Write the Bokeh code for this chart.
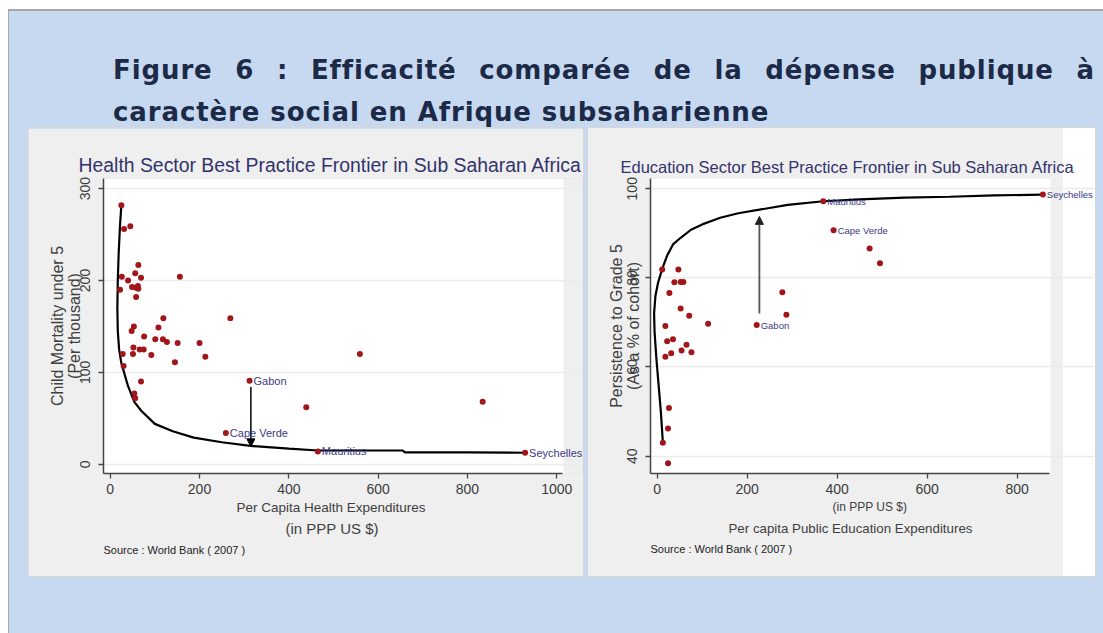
from bokeh.plotting import figure
from bokeh.models import (FixedTicker, Title, Div, Arrow, NormalHead, Range1d,
                          Label, BoxAnnotation)
from bokeh.layouts import column, row
from bokeh.embed import file_html
from bokeh.resources import INLINE

# ---------------- texts ----------------
title_line1 = "Figure 6 : Efficacité comparée de la dépense publique à"
title_line2 = "caractère social en Afrique subsaharienne"
source_text = "Source : World Bank ( 2007 )"

# ---------------- health panel data ----------------
health_title = "Health Sector Best Practice Frontier in Sub Saharan Africa"
health_xlabel = "Per Capita Health Expenditures"
health_xlabel2 = "(in PPP US $)"
health_ylabel = "Child Mortality under 5\n(Per thousand)"
health_xticks = [0, 200, 400, 600, 800, 1000]
health_yticks = [0, 100, 200, 300]
health_xlim = (-15, 1015)      # plot region (white)
health_ylim = (-10, 311)
health_x = [25, 31, 45, 63, 56, 26, 69, 40, 156, 22, 49, 58, 63, 62, 58,
            119, 269, 53, 108, 48, 76, 101, 118, 127, 151, 200, 52, 66, 75,
            92, 213, 145, 28, 51, 30, 69, 54, 56, 312, 439, 259, 465, 559,
            834, 929]
health_y = [282, 256, 259, 217, 208, 204, 203, 200, 204, 190, 193, 192, 191,
            194, 182, 159, 159, 150, 149, 145, 139, 136, 136, 133, 132, 132,
            127, 125, 125, 119, 117, 111, 120, 120, 107, 90, 77, 72, 91, 62,
            34, 14, 120, 68, 12.6]
health_frontier_x = [25, 22, 19, 17, 16, 17, 20, 25, 31, 40, 54, 70, 100, 140,
                     187, 250, 314, 400, 465, 550, 655, 660, 800, 929]
health_frontier_y = [282, 260, 230, 200, 170, 145, 125, 110, 100, 85, 68, 58,
                     44, 36, 29, 24, 20, 17, 15, 15, 15, 13, 13, 12.6]
health_names = ["Gabon", "Cape Verde", "Mauritius", "Seychelles"]
health_names_x = [312, 259, 465, 929]
health_names_y = [91, 34, 14, 12.6]
health_arrow_x = 315
health_arrow_y = [84, 19]

# ---------------- education panel data ----------------
edu_title = "Education Sector Best Practice Frontier in Sub Saharan Africa"
edu_xlabel = "(in PPP US $)"
edu_xlabel2 = "Per capita Public Education Expenditures"
edu_ylabel = "Persistence to Grade 5\n(As a % of cohort)"
edu_xticks = [0, 200, 400, 600, 800]
edu_yticks = [40, 60, 80, 100]
edu_xlim = (-15, 874)
edu_ylim = (36.1, 102.3)
edu_x = [12.5, 24, 24, 26, 18, 31, 22, 35, 18, 54, 76, 65, 52, 71, 113, 27,
         38, 52, 58, 11, 47, 221, 278, 287, 392, 472, 495, 369, 857]
edu_y = [43, 38.4, 46.2, 50.8, 62.3, 63.1, 65.8, 66.2, 69.2, 63.7, 63.3, 65,
         73.1, 71.5, 69.7, 76.6, 79, 79.1, 79.1, 81.9, 81.9, 69.4, 76.8, 71.7,
         90.7, 86.6, 83.3, 97.2, 98.7]
edu_frontier_x = [12.5, 8, 3, -2, -6, -7, -4, 2, 11, 22, 35, 52, 75, 100, 140,
                  180, 227, 290, 369, 450, 550, 650, 750, 857]
edu_frontier_y = [43, 50, 56, 62, 68, 72, 76, 79, 82, 85, 87.5, 89, 90.8, 92,
                  93.5, 94.5, 95.3, 96.4, 97.2, 97.6, 98, 98.2, 98.5, 98.7]
edu_names = ["Gabon", "Cape Verde", "Mauritius", "Seychelles"]
edu_names_x = [221, 392, 369, 857]
edu_names_y = [69.4, 90.7, 97.2, 98.7]
edu_arrow_x = 227
edu_arrow_y = [72, 93.8]

# ---------------- styles ----------------
SANS = "Liberation Sans"
TITLE_COLOR = "#33336b"
LABEL_COLOR = "#3a3a85"
AXIS_TEXT = "#3c3c3c"
DOT = "#a0161a"
PANEL = "#efefef"


def style_axes(p, xticks, yticks, xlim, yl_size, yl_standoff):
    p.xgrid.visible = False
    p.ygrid.grid_line_color = "#ebebeb"
    p.ygrid.grid_line_width = 1.5
    p.xaxis.ticker = FixedTicker(ticks=xticks)
    p.yaxis.ticker = FixedTicker(ticks=yticks)
    p.xaxis.bounds = (xlim[0], xlim[1] - 3)
    for ax in (p.xaxis[0], p.yaxis[0]):
        ax.axis_line_color = "#444444"
        ax.axis_line_width = 1.5
        ax.major_tick_line_color = "#444444"
        ax.major_tick_line_width = 1.3
        ax.major_tick_in = 0
        ax.major_tick_out = 5
        ax.minor_tick_line_color = None
        ax.major_label_text_font = SANS
        ax.major_label_text_font_size = "14px"
        ax.major_label_text_color = AXIS_TEXT
        ax.axis_label_text_font = SANS
        ax.axis_label_text_font_style = "normal"
        ax.axis_label_text_color = "#404040"
    p.xaxis.major_label_standoff = 5
    p.yaxis.major_label_standoff = 8
    p.yaxis.major_label_orientation = "vertical"
    p.yaxis.axis_label_text_font_size = yl_size
    p.yaxis.axis_label_text_line_height = 1.0
    p.yaxis.axis_label_standoff = yl_standoff
    # white plot region
    p.add_layout(BoxAnnotation(left=xlim[0], right=xlim[1], fill_color="white",
                               fill_alpha=1, line_color=None, level="image"))


def add_names(p, names, xs, ys, size):
    for n, x, y in zip(names, xs, ys):
        p.add_layout(Label(x=x, y=y, text=n, x_offset=4,
                           text_baseline="middle", text_font=SANS,
                           text_font_size=size, text_color=LABEL_COLOR))


def below_title(p, text, size, color, standoff, offset):
    p.add_layout(Title(text=text, align="left", offset=offset, text_font=SANS,
                       text_font_size=size, text_font_style="normal",
                       text_color=color, standoff=standoff), "below")


# ---------------- health figure ----------------
# frame spans 479 px; the white plot region keeps 460 px of it
p1 = figure(width=555, height=448, output_backend="svg", toolbar_location=None,
            x_range=Range1d(health_xlim[0],
                            health_xlim[0] + (health_xlim[1] - health_xlim[0]) * 479 / 460),
            y_range=Range1d(*health_ylim),
            min_border_left=75, min_border_right=1, min_border_top=50,
            min_border_bottom=103, background_fill_color=PANEL,
            border_fill_color=PANEL, outline_line_color=None,
            title=health_title, y_axis_label=health_ylabel,
            margin=(0, 5, 0, 20),
            styles={"box-shadow": "0 0 0 1px #d6d6d6"})
p1.title.text_font = SANS
p1.title.text_font_size = "19.4px"
p1.title.text_font_style = "normal"
p1.title.text_color = TITLE_COLOR
p1.title.align = "left"
p1.title.offset = -25
p1.title.standoff = 6
style_axes(p1, health_xticks, health_yticks, health_xlim, "16px", -5)

p1.line(health_frontier_x, health_frontier_y, line_color="black",
        line_width=2.2)
p1.scatter(health_x, health_y, size=6, fill_color=DOT, line_color=None)
p1.add_layout(Arrow(end=NormalHead(size=8, fill_color="black",
                                   line_color="black"),
                    x_start=health_arrow_x, y_start=health_arrow_y[0],
                    x_end=health_arrow_x, y_end=health_arrow_y[1],
                    line_color="black", line_width=1.5))
add_names(p1, health_names, health_names_x, health_names_y, "11px")
below_title(p1, health_xlabel, "13.5px", "#404040", 2, 133)
below_title(p1, health_xlabel2, "15px", "#404040", 5, 182)
below_title(p1, source_text, "11px", "#222222", 4, 0)

# ---------------- education figure ----------------
p2 = figure(width=507, height=448, output_backend="svg", toolbar_location=None,
            x_range=Range1d(edu_xlim[0],
                            edu_xlim[0] + (edu_xlim[1] - edu_xlim[0]) * 444 / 400),
            y_range=Range1d(*edu_ylim),
            min_border_left=62, min_border_right=1, min_border_top=50,
            min_border_bottom=103, background_fill_color=None,
            border_fill_color=None, outline_line_color=None,
            title=edu_title, y_axis_label=edu_ylabel, margin=(0, 0, 0, 0),
            styles={"background": "linear-gradient(to right, %s 475px, #ffffff 475px)" % PANEL,
                    "box-shadow": "0 0 0 1px #d6d6d6"})
p2.title.text_font = SANS
p2.title.text_font_size = "16.5px"
p2.title.text_font_style = "normal"
p2.title.text_color = TITLE_COLOR
p2.title.align = "left"
p2.title.offset = -30
p2.title.standoff = 6
style_axes(p2, edu_xticks, edu_yticks, edu_xlim, "16px", -17)

p2.line(edu_frontier_x, edu_frontier_y, line_color="black", line_width=2.2)
p2.scatter(edu_x, edu_y, size=6, fill_color=DOT, line_color=None)
p2.add_layout(Arrow(end=NormalHead(size=8, fill_color="#222222",
                                   line_color="#222222"),
                    x_start=edu_arrow_x, y_start=edu_arrow_y[0],
                    x_end=edu_arrow_x, y_end=edu_arrow_y[1],
                    line_color="#555555", line_width=1.8))
add_names(p2, edu_names, edu_names_x, edu_names_y, "9.5px")
below_title(p2, edu_xlabel, "12px", "#404040", 3, 182)
below_title(p2, edu_xlabel2, "13.3px", "#404040", 6, 78)
below_title(p2, source_text, "11px", "#222222", 4, 0)

# ---------------- page title ----------------
title_html = (
    '<div style="font-family:\'DejaVu Sans\';font-weight:bold;font-size:26px;'
    'letter-spacing:0.9px;color:#1c2a48;line-height:42px;'
    'padding:40px 0 0 105px;">'
    '<div style="width:982px;text-align:justify;text-align-last:justify;">'
    + title_line1 + '</div><div>' + title_line2 + '</div></div>'
)
head = Div(text=title_html, width=1095, height=119, margin=(0, 0, 0, 0))

root = column(head, row(p1, p2, margin=(0, 0, 0, 0)), width=1095, height=624,
              margin=(9, 0, 0, 8),
              styles={"background-color": "#c6d9f0",
                      "box-shadow": "inset 1px 2px 0 0 #a6a6a6"})

open("out.html", "w").write(file_html(root, INLINE))
